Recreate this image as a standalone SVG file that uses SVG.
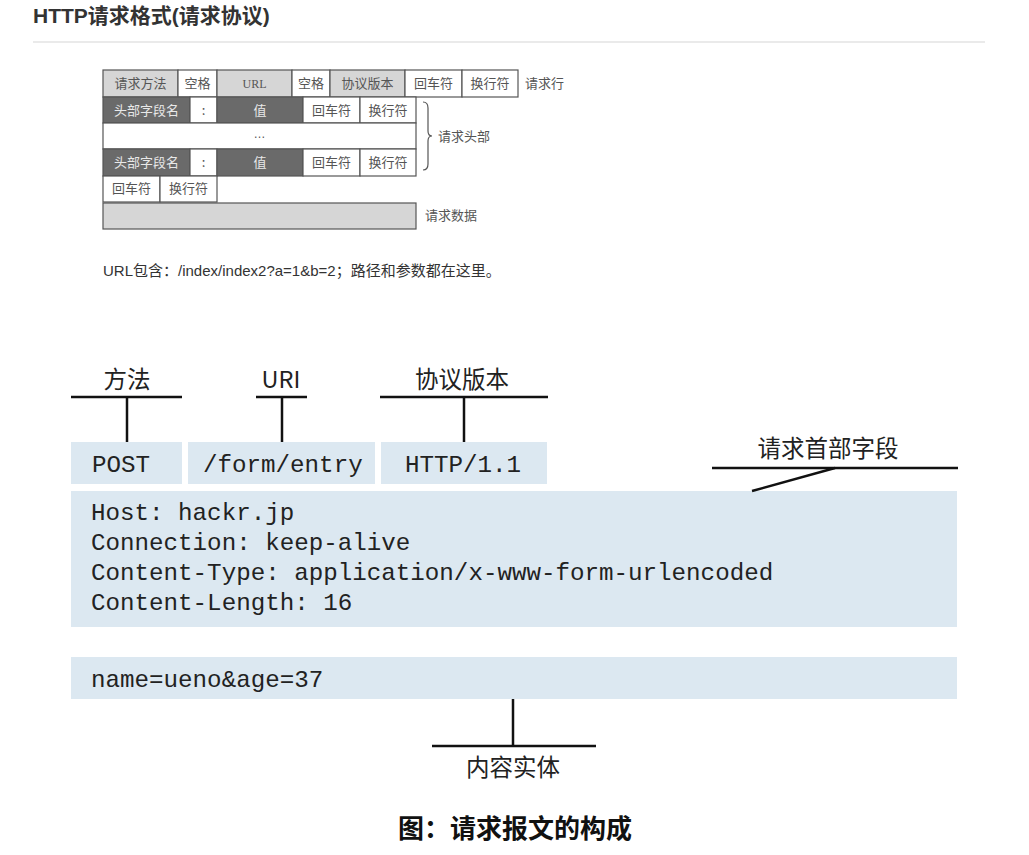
<svg xmlns="http://www.w3.org/2000/svg" width="1029" height="855" viewBox="0 0 1029 855">
<style>
.title{font-family:"Liberation Sans","Noto Sans CJK SC",sans-serif;font-weight:bold;font-size:21px;fill:#333}
.note{font-family:"Liberation Sans","Noto Sans CJK SC",sans-serif;font-size:15px;fill:#333}
.cell{stroke:#555;stroke-width:1.2}
.lg{fill:#d6d6d6}
.dk{fill:#6a6a6a}
.wh{fill:#fff}
.ct{font-family:"Noto Sans CJK SC",sans-serif;font-size:13px;fill:#555;text-anchor:middle}
.ctw{font-family:"Noto Sans CJK SC",sans-serif;font-size:13px;fill:#e8e8e8;text-anchor:middle}
.side{font-family:"Noto Sans CJK SC",sans-serif;font-size:13px;fill:#555}
.box{fill:#dce8f1}
.mono{font-family:"Liberation Mono","Courier New",monospace;font-size:24.2px;fill:#222}
.lbl{font-family:"Noto Sans CJK SC",sans-serif;font-size:23.5px;fill:#222;text-anchor:middle}
.ln{stroke:#111;stroke-width:2.5;fill:none}
.cap{font-family:"Noto Sans CJK SC",sans-serif;font-weight:bold;font-size:26px;fill:#111;text-anchor:middle}
</style>
<rect width="1029" height="855" fill="#fff"/>
<g id="header">
<text class="title" x="33" y="23">HTTP请求格式(请求协议)</text>
<line x1="33" y1="42" x2="985" y2="42" stroke="#e3e3e3" stroke-width="1.5"/>
</g>
<g id="format-table">
<rect class="cell lg" x="103" y="70" width="75" height="27"/>
<rect class="cell wh" x="178" y="70" width="39" height="27"/>
<rect class="cell lg" x="217" y="70" width="75" height="27"/>
<rect class="cell wh" x="292" y="70" width="38" height="27"/>
<rect class="cell lg" x="330" y="70" width="75" height="27"/>
<rect class="cell wh" x="405" y="70" width="57" height="27"/>
<rect class="cell wh" x="462" y="70" width="56" height="27"/>
<text class="ct" x="140.5" y="88">请求方法</text>
<text class="ct" x="197.5" y="88">空格</text>
<text class="ct" x="254.5" y="88" style="font-family:'Liberation Serif',serif;font-size:12px">URL</text>
<text class="ct" x="311" y="88">空格</text>
<text class="ct" x="367.5" y="88">协议版本</text>
<text class="ct" x="433.5" y="88">回车符</text>
<text class="ct" x="490" y="88">换行符</text>
<text class="side" x="525" y="88">请求行</text>

<rect class="cell dk" x="103" y="97" width="87" height="26"/>
<rect class="cell wh" x="190" y="97" width="27" height="26"/>
<rect class="cell dk" x="217" y="97" width="86" height="26"/>
<rect class="cell wh" x="303" y="97" width="57" height="26"/>
<rect class="cell wh" x="360" y="97" width="56" height="26"/>
<text class="ctw" x="146.5" y="115">头部字段名</text>
<text class="ct" x="203.5" y="115">:</text>
<text class="ctw" x="260" y="115">值</text>
<text class="ct" x="331.5" y="115">回车符</text>
<text class="ct" x="388" y="115">换行符</text>

<rect class="cell wh" x="103" y="123" width="313" height="26"/>
<text class="ct" x="259.5" y="138" style="font-family:'Liberation Sans',sans-serif;font-size:12px">…</text>

<rect class="cell dk" x="103" y="149" width="87" height="27"/>
<rect class="cell wh" x="190" y="149" width="27" height="27"/>
<rect class="cell dk" x="217" y="149" width="86" height="27"/>
<rect class="cell wh" x="303" y="149" width="57" height="27"/>
<rect class="cell wh" x="360" y="149" width="56" height="27"/>
<text class="ctw" x="146.5" y="167">头部字段名</text>
<text class="ct" x="203.5" y="167">:</text>
<text class="ctw" x="260" y="167">值</text>
<text class="ct" x="331.5" y="167">回车符</text>
<text class="ct" x="388" y="167">换行符</text>

<rect class="cell wh" x="103" y="176" width="57" height="26"/>
<rect class="cell wh" x="160" y="176" width="57" height="26"/>
<text class="ct" x="131.5" y="193">回车符</text>
<text class="ct" x="188.5" y="193">换行符</text>

<rect class="cell lg" x="103" y="203" width="313" height="26"/>
<text class="side" x="425" y="220">请求数据</text>

<path d="M423,102 Q428,102 428,108 L428,131 Q428,136 432,136 Q428,136 428,141 L428,164 Q428,170 423,170" fill="none" stroke="#555" stroke-width="1.2"/>
<text class="side" x="438" y="141">请求头部</text>
</g>
<g id="url-note">
<text class="note" x="103" y="276">URL包含：/index/index2?a=1&amp;b=2；路径和参数都在这里。</text>
</g>

<g id="node-method">
<rect class="box" x="71" y="442" width="111" height="42"/>
<text class="mono" x="92" y="472">POST</text>
<text class="lbl" x="127" y="388">方法</text>
</g>
<g id="node-uri">
<rect class="box" x="188" y="442" width="187" height="42"/>
<text class="mono" x="203" y="472">/form/entry</text>
<text class="lbl" x="281" y="388">URI</text>
</g>
<g id="node-version">
<rect class="box" x="381" y="442" width="166" height="42"/>
<text class="mono" x="405" y="472">HTTP/1.1</text>
<text class="lbl" x="462" y="388">协议版本</text>
</g>
<g id="node-headers">
<rect class="box" x="71" y="491" width="886" height="136"/>
<text class="mono" x="91" y="520">Host: hackr.jp</text>
<text class="mono" x="91" y="550">Connection: keep-alive</text>
<text class="mono" x="91" y="580">Content-Type: application/x-www-form-urlencoded</text>
<text class="mono" x="91" y="610">Content-Length: 16</text>
<text class="lbl" x="828" y="457">请求首部字段</text>
</g>
<g id="node-body">
<rect class="box" x="71" y="657" width="886" height="42"/>
<text class="mono" x="91" y="687">name=ueno&amp;age=37</text>
<text class="lbl" x="513" y="776">内容实体</text>
</g>
<g id="connectors">
<line class="ln" x1="71" y1="397" x2="182" y2="397"/>
<line class="ln" x1="127" y1="397" x2="127" y2="442"/>
<line class="ln" x1="256" y1="397" x2="307" y2="397"/>
<line class="ln" x1="282" y1="397" x2="282" y2="442"/>
<line class="ln" x1="380" y1="397" x2="548" y2="397"/>
<line class="ln" x1="464" y1="397" x2="464" y2="442"/>
<line class="ln" x1="712" y1="468" x2="958" y2="468"/>
<line class="ln" x1="835" y1="468" x2="752" y2="491"/>
<line class="ln" x1="513" y1="699" x2="513" y2="746"/>
<line class="ln" x1="432" y1="746" x2="596" y2="746"/>
</g>
<g id="caption">
<text class="cap" x="515" y="838">图：请求报文的构成</text>
</g>
</svg>
